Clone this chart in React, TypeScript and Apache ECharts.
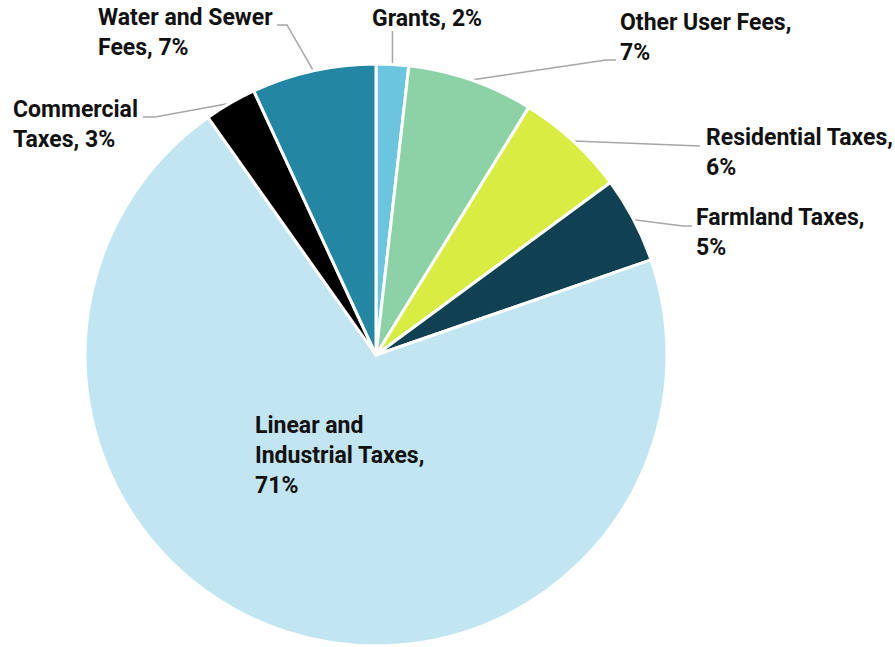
import React, { useEffect, useRef } from "react";
import * as echarts from "echarts";

const categories = [
  "Grants",
  "Other User Fees",
  "Residential Taxes",
  "Farmland Taxes",
  "Linear and Industrial Taxes",
  "Commercial Taxes",
  "Water and Sewer Fees",
];
const values = [1.8, 7.0, 6.1, 4.8, 70.5, 2.9, 6.9];
const pctLabels = ["2%", "7%", "6%", "5%", "71%", "3%", "7%"];
const labelTexts = [
  "Grants, 2%",
  "Other User Fees,\n7%",
  "Residential Taxes,\n6%",
  "Farmland Taxes,\n5%",
  "Linear and\nIndustrial Taxes,\n71%",
  "Commercial\nTaxes, 3%",
  "Water and Sewer\nFees, 7%",
];
const colors = ["#6CC5DE", "#8DD2A6", "#D8EC42", "#104152", "#C2E6F1", "#000000", "#2386A3"];

// label placement (top-left of text) and leader-line bend/end points
const labelPos: [number, number][] = [
  [372, 3],
  [620, 7],
  [706, 122],
  [696, 202],
  [255, 410],
  [13, 94],
  [98, 2],
];
const linePts: (number[][] | null)[] = [
  null, // vertical
  [[606, 60], [616, 60]],
  [[700, 146]],
  [[683, 226], [692, 226]],
  null,
  [[155, 117], [143, 117]],
  [[287, 25], [277, 25]],
];

export default function App() {
  const ref = useRef<HTMLDivElement>(null);
  useEffect(() => {
    document.body.style.margin = "0";
    const chart = echarts.init(ref.current!, null, { renderer: "svg" });
    chart.setOption({
      animation: false,
      backgroundColor: "#ffffff",
      series: [
        {
          type: "pie",
          center: [376, 355],
          radius: 291,
          startAngle: 90,
          clockwise: true,
          avoidLabelOverlap: false,
          itemStyle: { borderColor: "#ffffff", borderWidth: 3 },
          label: {
            show: true,
            position: "outside",
            fontFamily: "Roboto",
            fontWeight: "bold",
            fontSize: 23,
            lineHeight: 30,
            color: "#111111",
            formatter: (p: any) => labelTexts[p.dataIndex],
          },
          labelLine: {
            show: true,
            length: 20,
            length2: 10,
            lineStyle: { color: "#A6A6A6", width: 1.5 },
          },
          labelLayout: (p: any) => {
            const i = p.dataIndex;
            const [x, y] = labelPos[i];
            const res: any = { x, y, align: "left", verticalAlign: "top" };
            const pts = p.labelLinePoints;
            if (pts && pts.length) {
              const p0 = pts[0];
              if (i === 0) {
                res.labelLinePoints = [p0, [p0[0], 31]];
              } else if (linePts[i]) {
                res.labelLinePoints = [p0, ...(linePts[i] as number[][])];
              }
            }
            return res;
          },
          data: categories.map((name, i) => ({
            name,
            value: values[i],
            pct: pctLabels[i],
            itemStyle: { color: colors[i] },
            ...(i === 4
              ? { label: { position: "inside" }, labelLine: { show: false } }
              : {}),
          })),
        },
      ],
    });
    return () => chart.dispose();
  }, []);
  return <div ref={ref} style={{ width: 895, height: 647 }} />;
}
